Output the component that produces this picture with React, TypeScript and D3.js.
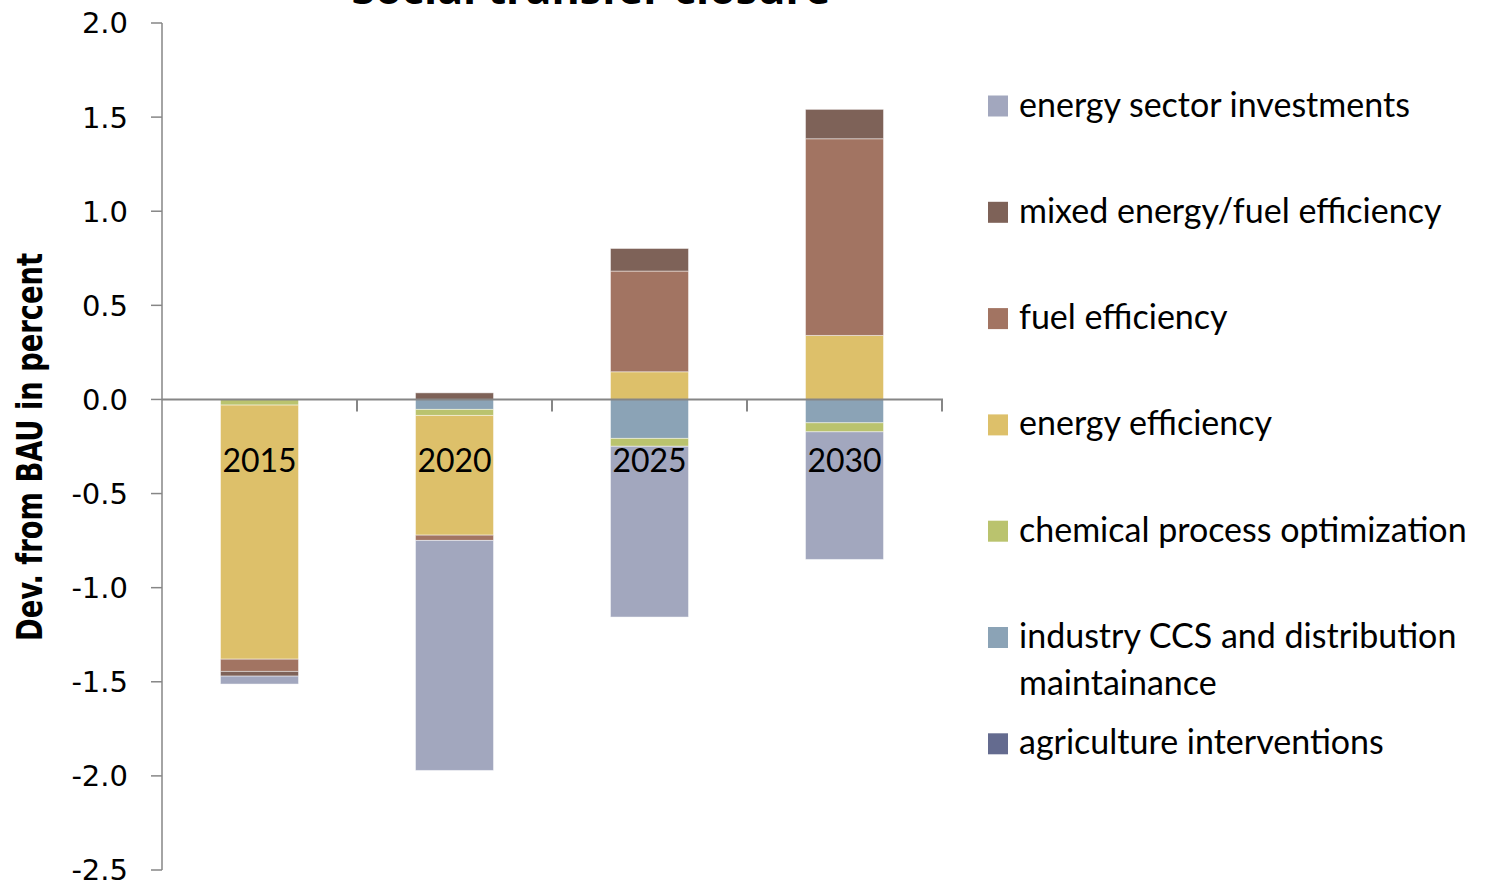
import React from "react";
import * as d3 from "d3";

const categories = ["2015", "2020", "2025", "2030"];

const seriesNames = [
  "agriculture interventions",
  "industry CCS and distribution maintainance",
  "chemical process optimization",
  "energy efficiency",
  "fuel efficiency",
  "mixed energy/fuel efficiency",
  "energy sector investments",
];

const agriculture = [0, 0, 0, 0];
const industryCCS = [0, -0.053, -0.207, -0.124];
const chemical = [-0.03, -0.032, -0.042, -0.048];
const energyEfficiency = [-1.35, -0.636, 0.147, 0.34];
const fuelEfficiency = [-0.065, -0.028, 0.535, 1.045];
const mixedEfficiency = [-0.025, 0.035, 0.12, 0.156];
const energySector = [-0.042, -1.222, -0.907, -0.678];

const seriesValues = [
  agriculture,
  industryCCS,
  chemical,
  energyEfficiency,
  fuelEfficiency,
  mixedEfficiency,
  energySector,
];

const colors = ["#646B8F", "#8BA3B6", "#BAC36E", "#DDC06A", "#A27462", "#7E6258", "#A2A7BE"];

const legendOrder = [6, 5, 4, 3, 2, 1, 0];
const legendLines: Record<number, string[]> = {
  1: ["industry CCS and distribution", "maintainance"],
};

const yTicks = [-2.5, -2.0, -1.5, -1.0, -0.5, 0.0, 0.5, 1.0, 1.5, 2.0];

export default function App() {
  const W = 1487;
  const H = 885;
  const y = d3.scaleLinear().domain([-2.5, 2]).range([870, 23]);
  const x = d3
    .scaleBand<string>()
    .domain(categories)
    .range([162, 942])
    .paddingInner(0.6)
    .paddingOuter(0.3);
  const step = x.step();

  const rows = categories.map((c, i) => {
    const r: Record<string, number | string> = { cat: c };
    seriesNames.forEach((s, k) => (r[s] = seriesValues[k][i]));
    return r;
  });
  const stack = d3
    .stack<Record<string, number | string>>()
    .keys(seriesNames)
    .offset(d3.stackOffsetDiverging);
  const layers = stack(rows as any);

  const axisColor = "#868686";
  const legendFont = "Lato, 'Open Sans', sans-serif";

  return (
    <div style={{ position: "absolute", left: 0, top: 0 }}>
      <svg width={W} height={H} style={{ display: "block", background: "#fff" }}>
        {/* title (cut off at the top) */}
        <text
          x={591}
          y={4}
          textAnchor="middle"
          fontFamily="'Open Sans', Lato, sans-serif"
          fontWeight="bold"
          fontSize={43}
        >
          Social transfer closure
        </text>

        {/* bars */}
        {layers.map((layer, k) => (
          <g key={k} fill={colors[k]}>
            {layer.map((d, i) => {
              const y0 = y(d[0]);
              const y1 = y(d[1]);
              const h = Math.abs(y0 - y1);
              if (h < 0.01) return null;
              return (
                <rect
                  key={i}
                  x={x(categories[i])}
                  y={Math.min(y0, y1)}
                  width={x.bandwidth()}
                  height={h}
                  stroke="#ffffff"
                  strokeOpacity={0.45}
                  strokeWidth={1}
                />
              );
            })}
          </g>
        ))}

        {/* y axis */}
        <line x1={162} x2={162} y1={y(2)} y2={y(-2.5)} stroke={axisColor} strokeWidth={1.5} />
        {yTicks.map((t) => (
          <g key={t}>
            <line x1={151} x2={162} y1={y(t)} y2={y(t)} stroke={axisColor} strokeWidth={1.5} />
            <text
              x={128}
              y={y(t)}
              dy="0.36em"
              textAnchor="end"
              fontFamily="'DejaVu Sans', Verdana, sans-serif"
              fontSize={29}
              fill="#000"
            >
              {t.toFixed(1)}
            </text>
          </g>
        ))}

        {/* x axis at zero */}
        <line x1={162} x2={943} y1={y(0)} y2={y(0)} stroke={axisColor} strokeWidth={2} />
        {categories.map((c, i) => {
          const xb = 162 + step * (i + 1);
          return (
            <line key={c} x1={xb} x2={xb} y1={y(0)} y2={y(0) + 12} stroke={axisColor} strokeWidth={2} />
          );
        })}

        {/* category labels */}
        {categories.map((c) => (
          <text
            key={c}
            x={(x(c) as number) + x.bandwidth() / 2}
            y={472}
            textAnchor="middle"
            fontFamily={legendFont}
            fontSize={32}
            fill="#000"
          >
            {c}
          </text>
        ))}

        {/* y axis title */}
        <text
          transform={`translate(42, 447) rotate(-90)`}
          textAnchor="middle"
          fontFamily="'DejaVu Sans Condensed', 'Liberation Sans Narrow', 'Open Sans', sans-serif"
          fontWeight="bold"
          fontSize={36}
          textLength={388}
          lengthAdjust="spacingAndGlyphs"
          fill="#000"
        >
          Dev. from BAU in percent
        </text>

        {/* legend */}
        {legendOrder.map((k, j) => {
          const base = 116.5 + j * 106.3;
          const lines = legendLines[k] || [seriesNames[k]];
          return (
            <g key={k}>
              <rect x={988} y={base - 21} width={20} height={21} fill={colors[k]} />
              {lines.map((ln, li) => (
                <text
                  key={li}
                  x={1019}
                  y={base + li * 46.5}
                  fontFamily={legendFont}
                  fontSize={34}
                  fill="#000"
                >
                  {ln}
                </text>
              ))}
            </g>
          );
        })}
      </svg>
    </div>
  );
}
